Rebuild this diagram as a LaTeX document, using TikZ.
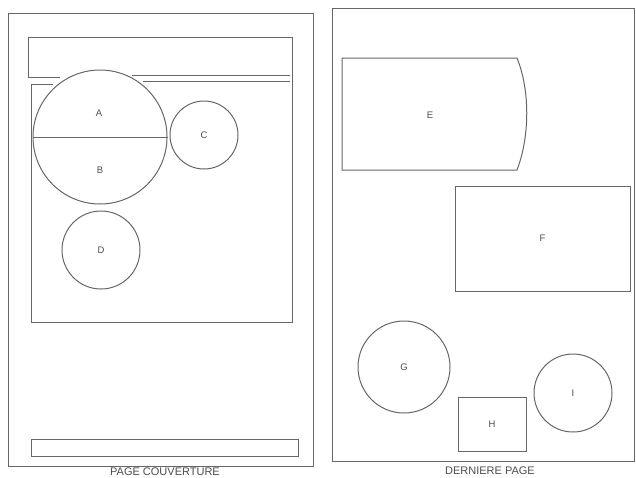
\documentclass[tikz,border=0pt]{standalone}
\usepackage{fontspec}
\setmainfont{Liberation Sans}
\usepackage{tikz}
\usetikzlibrary{positioning}

\begin{document}
\begin{tikzpicture}[x=1pt, y=-1pt]

    % Define styles for the nodes
    \tikzstyle{page} = [draw=black!60, line width=1pt]
    \tikzstyle{disc} = [
        circle, draw=black!60, line width=1pt, inner sep=0pt,
        text=black!70, font=\fontsize{9.5}{10}\selectfont
    ]
    \tikzstyle{block} = [
        rectangle, draw=black!60, line width=1pt, inner sep=0pt,
        text=black!70, font=\fontsize{9.5}{10}\selectfont
    ]
    \tikzstyle{letter} = [text=black!70, font=\fontsize{9.5}{10}\selectfont]
    \tikzstyle{caption} = [
        text=black!70, inner sep=0pt, font=\fontsize{11}{12}\selectfont
    ]

    \useasboundingbox (0,0) rectangle (636,477);

    % Page couverture
    \draw [page] (8,13) rectangle (313,466);
    \draw [page] (60,77) -- (28,77) -- (28,37) -- (292,37) -- (292,322)
        -- (31,322) -- (31,84) -- (53,84);
    \draw [page] (132,75) -- (290,75);
    \draw [page] (143,81) -- (290,81);
    \draw [page] (31,439) rectangle (298,456);

    % Derniere page
    \draw [page] (332,8) rectangle (634,461);
    \draw [page] (342,58) -- (517,58)
        .. controls (530,90) and (530,136) .. (517,170) -- (342,170) -- cycle;

    % Nodes
    \node (AB) [disc, minimum size=134pt] at (100,137) {};
    \node (A) [letter] at (99,113) {A};
    \node (B) [letter] at (100,170) {B};
    \node (C) [disc, minimum size=68pt] at (204,135) {C};
    \node (D) [disc, minimum size=78pt] at (101,250) {D};
    \node (E) [letter] at (430,115) {E};
    \node (F) [block, minimum width=175pt, minimum height=105pt] at (542.5,238.5) {F};
    \node (G) [disc, minimum size=92pt] at (404,367) {G};
    \node (H) [block, minimum width=68pt, minimum height=54pt] at (492,424) {H};
    \node (I) [disc, minimum size=78pt] at (573,393) {I};

    % Lines
    \draw [page] (AB.west) -- (AB.east);

    % Captions
    \node (couverture) [caption] at (165,471.5) {PAGE COUVERTURE};
    \node (derniere) [caption] at (490,470.5) {DERNIERE PAGE};

\end{tikzpicture}
\end{document}
